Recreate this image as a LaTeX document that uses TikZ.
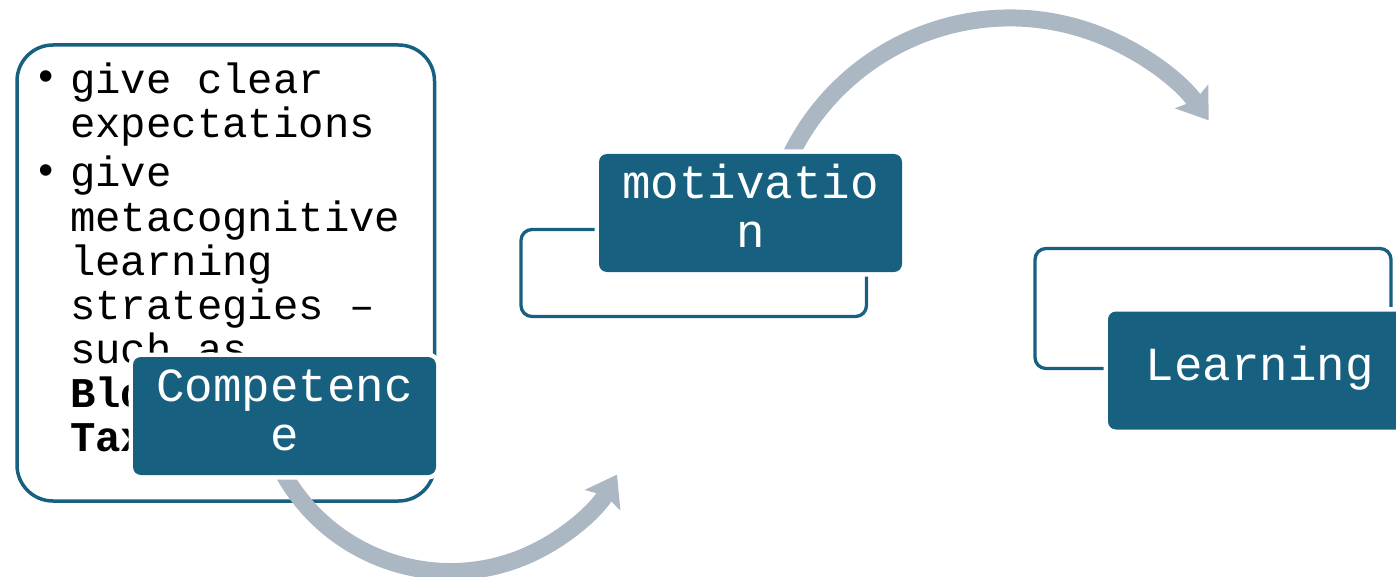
\documentclass[tikz,border=0pt]{standalone}
\usepackage{fontspec}
\setmainfont{Liberation Mono}
\usetikzlibrary{arrows.meta}
\definecolor{boxblue}{RGB}{24,96,128}
\definecolor{arrowgray}{RGB}{171,183,195}
\begin{document}
\begin{tikzpicture}[x=1pt,y=-1pt,
  notesframe/.style={draw=boxblue, line width=3.5pt, rounded corners=36pt, inner sep=0pt},
  bracketframe/.style={draw=boxblue, line width=3.3pt, rounded corners=11pt, inner sep=0pt},
  stagebox/.style={fill=boxblue, rounded corners=8pt, minimum width=303pt,
    minimum height=118pt, inner sep=0pt, text=white, align=center,
    font=\fontsize{47.5}{49}\selectfont, preaction={draw=white, line width=9pt}},
  listline/.style={anchor=base west, inner sep=0pt, font=\fontsize{42.3}{44}\selectfont},
  bulletmark/.style={inner sep=0pt, font=\fontsize{42.3}{44}\selectfont},
  cyclearrow/.style={draw=arrowgray, line width=17pt,
    -{Stealth[length=29pt,width=40pt,inset=5pt]}},
]
\useasboundingbox (0,0) rectangle (1396,577);
\clip (0,0) rectangle (1396,577);

% frame around the bullet list
\node[notesframe, minimum width=417.5pt, minimum height=456pt] (notes) at (225.75,273) {};

% bullet list
\node[bulletmark] (b1) at (46.5,80.7) {•};
\node[bulletmark] (b2) at (46.5,175) {•};
\node[listline] (l1) at (70,93.3) {give clear};
\node[listline] (l2) at (70,137.5) {expectations};
\node[listline] (l3) at (70,187) {give};
\node[listline] (l4) at (70,231.5) {metacognitive};
\node[listline] (l5) at (70,275.5) {learning};
\node[listline] (l6) at (70,319.5) {strategies –};
\node[listline] (l7) at (70,363.5) {such as};
\node[listline] (l8) at (70,407.5) {\bfseries Bloom's};
\node[listline] (l9) at (70,451.5) {\bfseries Taxonomy};

% open frames behind the stage boxes
\node[bracketframe, minimum width=345.5pt, minimum height=87pt] (motframe) at (693.75,273) {};
\node[bracketframe, minimum width=356pt, minimum height=120pt] (learnframe) at (1213,308.5) {};

% curved arrows between the stages
\coordinate (arcA) at (450.5,380);
\coordinate (arcB) at (1010,262);
\draw[cyclearrow] ([shift={(155:191.5)}]arcA) arc[start angle=155, end angle=29.6, radius=191.5];
\draw[cyclearrow] ([shift={(-160:244)}]arcB) arc[start angle=-160, end angle=-35.5, radius=244];

% stage boxes
\node[stagebox] (comp) at (284.5,416) {\strut Competenc\\\strut e};
\node[stagebox] (motiv) at (750.5,213) {\strut motivatio\\\strut n};
\node[stagebox] (learn) at (1259.5,370.5) {\strut Learning};
\end{tikzpicture}
\end{document}
